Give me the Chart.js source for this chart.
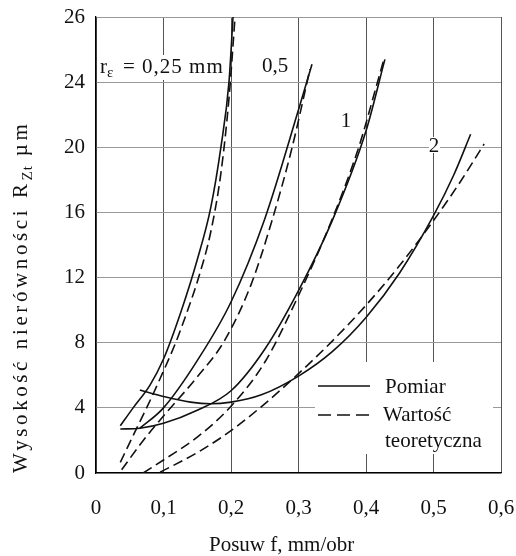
<!DOCTYPE html>
<html>
<head>
<meta charset="utf-8">
<script src="https://cdn.jsdelivr.net/npm/chart.js@4.4.1/dist/chart.umd.min.js"></script>
<style>
  html, body { margin: 0; padding: 0; background: #fff; }
</style>
</head>
<body>
<canvas id="chart" width="516" height="556"></canvas>
<script>
// ticks
const xTickValues = [0, 0.1, 0.2, 0.3, 0.4, 0.5, 0.6];
const xTickLabels = ['0', '0,1', '0,2', '0,3', '0,4', '0,5', '0,6'];
const yTickValues = [0, 4, 8, 12, 16, 20, 24, 28];
const yTickLabels = ['0', '4', '8', '12', '16', '20', '24', '26'];

// [posuw f mm/obr, Rzt um]
const pomiar025 = [[0.036, 2.9], [0.055, 4.0], [0.08, 5.4], [0.1, 7.0], [0.125, 9.8], [0.15, 13.1], [0.17, 16.3], [0.185, 20], [0.197, 24], [0.203, 28]];
const teoria025 = [[0.036, 0.65], [0.055, 2.3], [0.075, 4.0], [0.095, 5.8], [0.118, 8.0], [0.135, 9.9], [0.152, 12], [0.17, 14.8], [0.185, 18.4], [0.197, 23], [0.206, 28]];
const pomiar05 = [[0.065, 2.75], [0.1, 4.0], [0.15, 6.9], [0.2, 10.5], [0.25, 15.6], [0.3, 22.3], [0.32, 25.1]];
const teoria05 = [[0.038, 0.2], [0.07, 2.0], [0.1, 3.5], [0.15, 5.9], [0.19, 8.1], [0.23, 11.6], [0.26, 15.4], [0.29, 19.9], [0.317, 24.8]];
const pomiar1 = [[0.036, 2.7], [0.065, 2.75], [0.1, 3.05], [0.15, 3.85], [0.2, 5.05], [0.25, 7.6], [0.3, 11.2], [0.35, 15.5], [0.4, 21.0], [0.428, 25.4]];
const teoria1 = [[0.07, 0], [0.1, 0.8], [0.15, 2.2], [0.2, 4.1], [0.25, 6.8], [0.3, 10.9], [0.35, 15.6], [0.39, 20.1], [0.415, 23.7], [0.4265, 25.4]];
const pomiar2 = [[0.065, 5.1], [0.1, 4.7], [0.14, 4.35], [0.17, 4.25], [0.2, 4.35], [0.245, 4.8], [0.3, 5.95], [0.35, 7.45], [0.4, 9.55], [0.45, 12.3], [0.5, 15.8], [0.53, 18.3], [0.555, 20.8]];
const teoria2 = [[0.095, 0.05], [0.15, 1.25], [0.2, 2.6], [0.25, 4.25], [0.3, 6.1], [0.35, 8.1], [0.4, 10.3], [0.45, 12.75], [0.5, 15.5], [0.54, 17.9], [0.575, 20.2]];

const serif = '"Liberation Serif", "DejaVu Serif", serif';
const ink = '#111';

function curve(pairs, dashed) {
    return {
        data: pairs.map(p => ({ x: p[0], y: p[1] })),
        borderColor: ink,
        borderWidth: 1.6,
        borderDash: dashed ? [10, 5] : [],
        pointRadius: 0,
        fill: false,
        cubicInterpolationMode: 'monotone'
    };
}

const chartText = {
    id: 'chartText',
    beforeDatasetsDraw(chart) {
        const ctx = chart.ctx;
        const a = chart.chartArea;
        ctx.save();
        ctx.fillStyle = '#fff';
        ctx.fillRect(a.left + 219, a.top + 345, 178, 92);   // legend
        ctx.fillRect(a.left + 1, a.top + 38, 131, 25);      // r label
        ctx.fillRect(a.left + 333, a.top + 120, 11, 16);    // "2"
        ctx.restore();
    },
    afterDraw(chart) {
        const ctx = chart.ctx;
        const a = chart.chartArea;
        ctx.save();
        ctx.fillStyle = ink;
        ctx.strokeStyle = ink;
        ctx.textBaseline = 'alphabetic';
        ctx.textAlign = 'left';

        // r label
        ctx.font = '21px ' + serif;
        ctx.fillText('r', a.left + 4, a.top + 55.5);
        ctx.font = '15px ' + serif;
        ctx.fillText('\u03b5', a.left + 11, a.top + 60);
        ctx.font = '21px ' + serif;
        ctx.letterSpacing = '1px';
        ctx.fillText('= 0,25 mm', a.left + 27, a.top + 55.5);
        ctx.letterSpacing = '0px';

        // curve labels
        ctx.fillText('0,5', a.left + 166, a.top + 55);
        ctx.textAlign = 'center';
        ctx.fillText('1', a.left + 250, a.top + 109.5);
        ctx.fillText('2', a.left + 338, a.top + 134.5);
        ctx.textAlign = 'left';

        // legend
        ctx.lineWidth = 1.6;
        ctx.beginPath();
        ctx.moveTo(a.left + 222, a.top + 369);
        ctx.lineTo(a.left + 274, a.top + 369);
        ctx.stroke();
        ctx.setLineDash([13, 6]);
        ctx.beginPath();
        ctx.moveTo(a.left + 222, a.top + 398);
        ctx.lineTo(a.left + 274, a.top + 398);
        ctx.stroke();
        ctx.setLineDash([]);
        ctx.fillText('Pomiar', a.left + 289, a.top + 375.5);
        ctx.fillText('Warto\u015b\u0107', a.left + 287, a.top + 403.5);
        ctx.fillText('teoretyczna', a.left + 289, a.top + 430);

        // x title
        ctx.fillText('Posuw f, mm/obr', 209, 551);

        // y title, rotated, with subscript
        ctx.translate(27, 473);
        ctx.rotate(-Math.PI / 2);
        ctx.letterSpacing = '3.6px';
        let x = 0;
        const t1 = 'Wysoko\u015b\u0107 nier\u00f3wno\u015bci R';
        ctx.fillText(t1, x, 0);
        x += ctx.measureText(t1).width;
        ctx.font = '15px ' + serif;
        ctx.letterSpacing = '1px';
        ctx.fillText('Zt', x, 5);
        x += ctx.measureText('Zt').width;
        ctx.font = '21px ' + serif;
        ctx.letterSpacing = '3.6px';
        ctx.fillText(' \u00b5m', x, 0);
        ctx.restore();
    }
};

new Chart(document.getElementById('chart'), {
    type: 'line',
    data: {
        datasets: [
            curve(pomiar025, false), curve(teoria025, true),
            curve(pomiar05, false), curve(teoria05, true),
            curve(pomiar1, false), curve(teoria1, true),
            curve(pomiar2, false), curve(teoria2, true)
        ]
    },
    options: {
        responsive: false,
        animation: false,
        events: [],
        layout: { padding: { top: 17, right: 15, left: 0, bottom: 0 } },
        plugins: { legend: { display: false }, tooltip: { enabled: false } },
        scales: {
            x: {
                type: 'linear',
                min: 0,
                max: 0.6,
                afterBuildTicks: scale => { scale.ticks = xTickValues.map(v => ({ value: v })); },
                afterFit: scale => {
                    scale.height = 83;
                    scale.paddingLeft = 0;
                    scale.paddingRight = 0;
                },
                ticks: {
                    autoSkip: false,
                    maxRotation: 0,
                    padding: 23,
                    color: ink,
                    font: { family: serif, size: 21 },
                    callback: (value, index) => xTickLabels[index]
                },
                grid: { color: '#555', lineWidth: 1, drawTicks: false },
                border: { color: '#000', width: 1.3 }
            },
            y: {
                type: 'linear',
                min: 0,
                max: 28,
                afterBuildTicks: scale => { scale.ticks = yTickValues.map(v => ({ value: v })); },
                afterFit: scale => {
                    scale.width = 96;
                    scale.paddingTop = 0;
                    scale.paddingBottom = 0;
                },
                ticks: {
                    padding: 11,
                    color: ink,
                    font: { family: serif, size: 21 },
                    callback: (value, index) => yTickLabels[index]
                },
                grid: { color: '#999', lineWidth: 1, drawTicks: false },
                border: { color: '#000', width: 1.3 }
            }
        }
    },
    plugins: [chartText]
});
</script>
</body>
</html>
